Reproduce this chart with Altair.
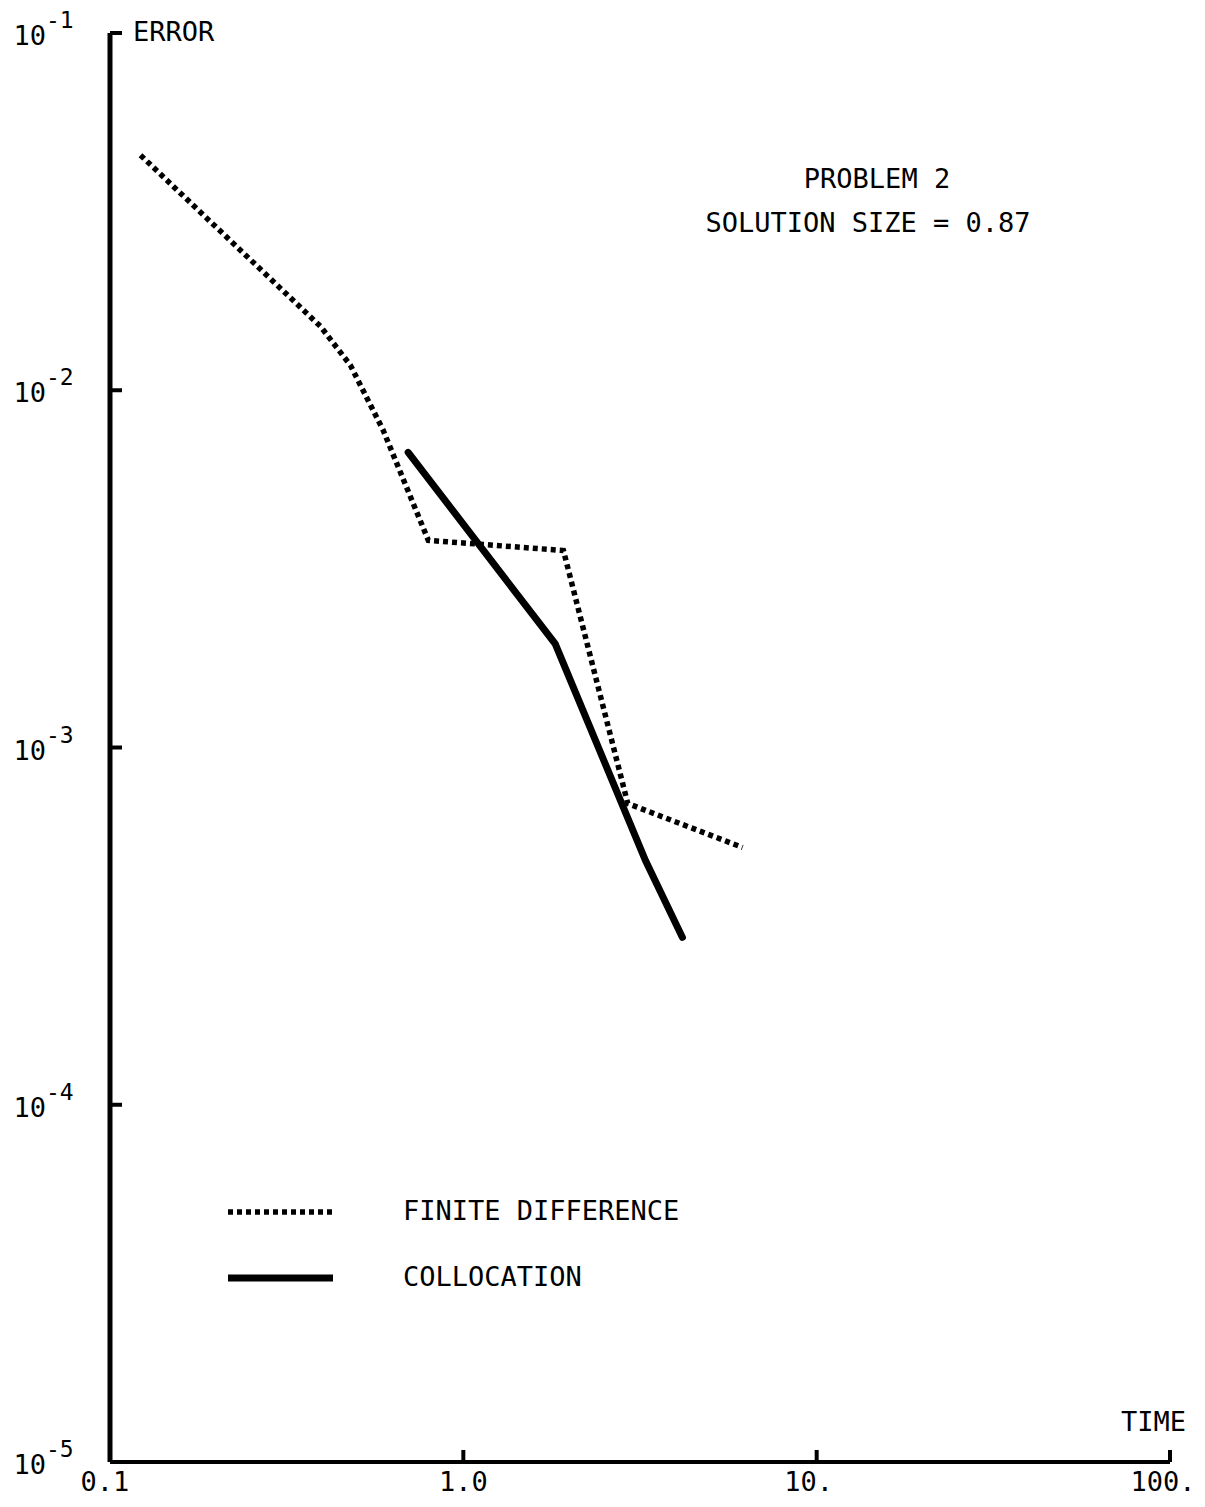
import altair as alt
import pandas as pd

# ---- data ----
fd_time = [0.122, 0.394, 0.479, 0.593, 0.796, 1.92, 2.92, 6.17]
fd_error = [0.0455, 0.0151, 0.01175, 0.00773, 0.0038, 0.00356, 0.000697, 0.000525]

col_time = [0.698, 1.82, 3.28, 4.17]
col_error = [0.0067, 0.00195, 0.000482, 0.000294]

x_ticks = [0.1, 1.0, 10.0, 100.0]
x_tick_labels = ["0.1", "1.0", "10.", "100."]
y_ticks = [1e-1, 1e-2, 1e-3, 1e-4, 1e-5]
y_tick_exps = ["-1", "-2", "-3", "-4", "-5"]

legend_labels = ["FINITE DIFFERENCE", "COLLOCATION"]
title_lines = ["PROBLEM 2", "SOLUTION SIZE = 0.87"]

W, H = 1060, 1429
FONT = "DejaVu Sans Mono"
FS = 27

xs = alt.Scale(type="log", domain=[0.1, 100], nice=False)
ys = alt.Scale(type="log", domain=[1e-5, 1e-1], nice=False)

fd = pd.DataFrame({"t": fd_time, "e": fd_error})
col = pd.DataFrame({"t": col_time, "e": col_error})

fd_line = alt.Chart(fd).mark_line(
    color="black", strokeWidth=5.5, strokeDash=[5, 4], strokeCap="butt"
).encode(
    x=alt.X("t:Q", scale=xs, axis=None),
    y=alt.Y("e:Q", scale=ys, axis=None),
)

col_line = alt.Chart(col).mark_line(
    color="black", strokeWidth=7, strokeCap="round"
).encode(
    x=alt.X("t:Q", scale=xs, axis=None),
    y=alt.Y("e:Q", scale=ys, axis=None),
)

# axes lines
yaxis = alt.Chart(pd.DataFrame({"x": [0.1], "y": [1e-5], "y2": [1e-1]})).mark_rule(
    color="black", strokeWidth=5
).encode(
    x=alt.X("x:Q", scale=xs, axis=None),
    y=alt.Y("y:Q", scale=ys, axis=None),
    y2="y2:Q",
)
xaxis = alt.Chart(pd.DataFrame({"y": [1e-5], "x": [0.1], "x2": [100.0]})).mark_rule(
    color="black", strokeWidth=4
).encode(
    x=alt.X("x:Q", scale=xs, axis=None),
    x2="x2:Q",
    y=alt.Y("y:Q", scale=ys, axis=None),
)

ytick_df = pd.DataFrame({"v": y_ticks, "exp": y_tick_exps, "base": ["10"] * len(y_ticks)})
xtick_df = pd.DataFrame({"v": x_ticks, "lab": x_tick_labels})

yticks = alt.Chart(ytick_df).mark_rule(color="black", strokeWidth=4).encode(
    y=alt.Y("v:Q", scale=ys, axis=None),
    x=alt.value(0),
    x2=alt.value(12),
)
xticks = alt.Chart(xtick_df[xtick_df["v"] > 0.1]).mark_rule(color="black", strokeWidth=4).encode(
    x=alt.X("v:Q", scale=xs, axis=None),
    y=alt.value(H),
    y2=alt.value(H - 12),
)

ylab_base = alt.Chart(ytick_df).mark_text(
    font=FONT, fontSize=FS, align="right", baseline="middle", dy=4, color="black"
).encode(
    y=alt.Y("v:Q", scale=ys, axis=None),
    x=alt.value(-64),
    text="base:N",
)
ylab_exp = alt.Chart(ytick_df).mark_text(
    font=FONT, fontSize=23, align="left", baseline="middle", dy=-12, color="black"
).encode(
    y=alt.Y("v:Q", scale=ys, axis=None),
    x=alt.value(-64),
    text="exp:N",
)

xlab_dx = {"0.1": -5, "1.0": 0, "10.": -8, "100.": -7}
xlabs = []
for v, lab in zip(x_ticks, x_tick_labels):
    xlabs.append(
        alt.Chart(pd.DataFrame({"v": [v], "lab": [lab]})).mark_text(
            font=FONT, fontSize=FS, align="center", baseline="alphabetic",
            dx=xlab_dx[lab], color="black"
        ).encode(
            x=alt.X("v:Q", scale=xs, axis=None),
            y=alt.value(H + 29),
            text="lab:N",
        )
    )


def label(txt, x, y, align="left", size=FS):
    return alt.Chart(pd.DataFrame({"t": [txt]})).mark_text(
        font=FONT, fontSize=size, align=align, baseline="middle", color="black"
    ).encode(x=alt.value(x), y=alt.value(y), text="t:N")


err_lab = label("ERROR", 23, 0)
time_lab = label("TIME", 1076, 1390, align="right")
title1 = label(title_lines[0], 767, 147, align="center")
title2 = label(title_lines[1], 758, 191, align="center")
leg_t1 = label(legend_labels[0], 293, 1179)
leg_t2 = label(legend_labels[1], 293, 1245)

leg_fd = alt.Chart(pd.DataFrame({"k": [0]})).mark_rule(
    color="black", strokeWidth=5.5, strokeDash=[5, 4]
).encode(x=alt.value(118), x2=alt.value(225), y=alt.value(1179))
leg_col = alt.Chart(pd.DataFrame({"k": [0]})).mark_rule(
    color="black", strokeWidth=7
).encode(x=alt.value(118), x2=alt.value(223), y=alt.value(1245))

chart = alt.layer(
    fd_line, col_line, yaxis, xaxis, yticks, xticks,
    ylab_base, ylab_exp, *xlabs,
    err_lab, time_lab, title1, title2, leg_t1, leg_t2, leg_fd, leg_col,
).properties(
    width=W,
    height=H,
    padding={"left": 102, "top": 25, "right": 27, "bottom": 36},
    autosize=alt.AutoSizeParams(type="none"),
    background="white",
).configure_view(stroke=None)

chart.save("out.html", embed_options={"renderer": "svg", "actions": False})
